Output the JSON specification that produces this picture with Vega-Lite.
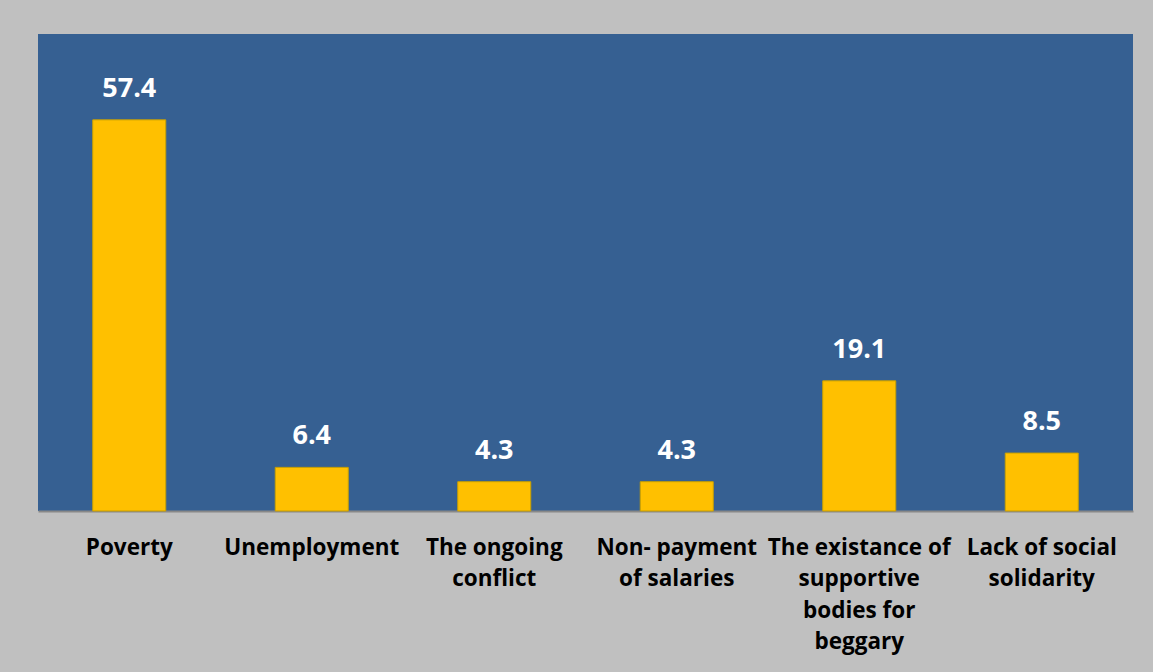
{
  "$schema": "https://vega.github.io/schema/vega-lite/v6.json",
  "width": 1095,
  "height": 477,
  "autosize": {"type": "none"},
  "padding": {"left": 38, "top": 34, "right": 20, "bottom": 161},
  "background": "#C0C0C0",
  "config": {
    "view": {"fill": "#366092", "stroke": null},
    "font": "Open Sans"
  },
  "data": {
    "values": [
      {"cause": "Poverty", "value": 57.4},
      {"cause": "Unemployment", "value": 6.4},
      {"cause": "The ongoing|conflict", "value": 4.3},
      {"cause": "Non- payment|of salaries", "value": 4.3},
      {"cause": "The existance of|supportive|bodies for|beggary", "value": 19.1},
      {"cause": "Lack of social|solidarity", "value": 8.5}
    ]
  },
  "encoding": {
    "x": {
      "field": "cause",
      "type": "nominal",
      "sort": null,
      "scale": {"paddingInner": 0.6, "paddingOuter": 0.3},
      "axis": {
        "title": null,
        "labelAngle": 0,
        "labelExpr": "split(datum.label, '|')",
        "labelFont": "Open Sans",
        "labelFontWeight": "bold",
        "labelFontSize": 22.5,
        "labelColor": "#000000",
        "labelLineHeight": 31.5,
        "labelPadding": 25,
        "ticks": false,
        "domainColor": "#888888",
        "domainWidth": 2,
        "labelLimit": 300
      }
    },
    "y": {
      "field": "value",
      "type": "quantitative",
      "scale": {"domain": [0, 70]},
      "axis": null
    }
  },
  "layer": [
    {
      "mark": {"type": "bar", "color": "#FFC000", "stroke": "#C9A000", "strokeWidth": 1}
    },
    {
      "mark": {"type": "text", "dy": -31, "color": "#FFFFFF", "fontWeight": "bold", "fontSize": 27, "font": "Open Sans"},
      "encoding": {"text": {"field": "value", "type": "quantitative", "format": ".1f"}}
    }
  ]
}
